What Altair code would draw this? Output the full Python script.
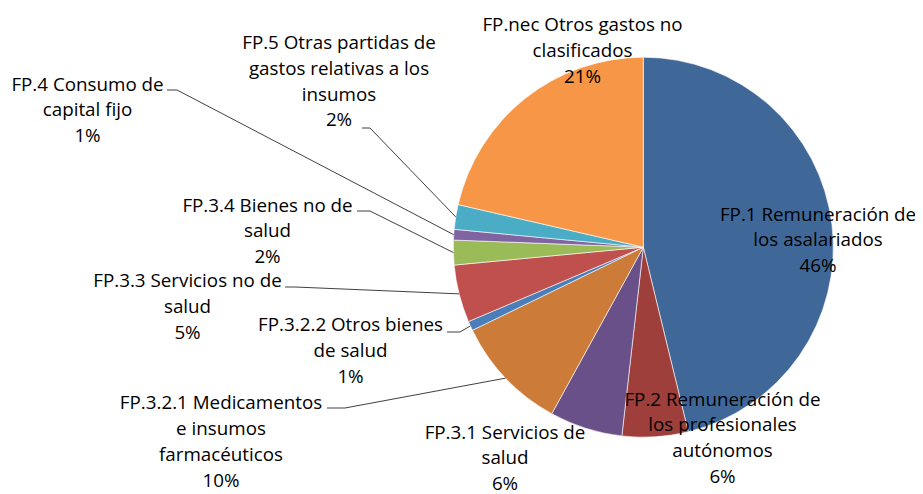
import altair as alt
import pandas as pd
import numpy as np

# ---------------- data ----------------
categories = [
    "FP.1", "FP.2", "FP.3.1", "FP.3.2.1", "FP.3.2.2",
    "FP.3.3", "FP.3.4", "FP.4", "FP.5", "FP.nec",
]
values = [46.2, 5.6, 6.2, 9.8, 0.8, 4.9, 2.1, 0.9, 2.1, 21.4]
label_lines = [
    ["FP.1 Remuneración de", "los asalariados"],
    ["FP.2 Remuneración de", "los profesionales", "autónomos"],
    ["FP.3.1 Servicios de", "salud"],
    ["FP.3.2.1 Medicamentos", "e insumos", "farmacéuticos"],
    ["FP.3.2.2 Otros bienes", "de salud"],
    ["FP.3.3 Servicios no de", "salud"],
    ["FP.3.4 Bienes no de", "salud"],
    ["FP.4 Consumo de", "capital fijo"],
    ["FP.5 Otras partidas de", "gastos relativas a los", "insumos"],
    ["FP.nec Otros gastos no", "clasificados"],
]
colors = [
    "#3F6899", "#9E3F3C", "#6A5088", "#CC7B38", "#4A7EBB",
    "#C0504D", "#9BBB59", "#8064A2", "#4BACC6", "#F79646",
]

# ---------------- layout (pixels in chart space) ----------------
W, H = 907, 486
CX, CY, R = 635.3, 239.2, 190
FONT = "Open Sans"
FS = 18.8
LH = 25.8
# label anchor: centre x, baseline of first line
label_pos = {
    "FP.1": (810, 212.7),
    "FP.2": (714.5, 397.7),
    "FP.3.1": (497, 430.5),
    "FP.3.2.1": (213, 401.3),
    "FP.3.2.2": (342.5, 323),
    "FP.3.3": (179.5, 279.3),
    "FP.3.4": (259.5, 203.7),
    "FP.4": (79.5, 82.7),
    "FP.5": (331, 41),
    "FP.nec": (574.5, 23),
}
# leader stubs: (x start, x end, y)
leader_stub = {
    "FP.3.2.1": (319, 337, 400),
    "FP.3.2.2": (439, 452, 324),
    "FP.3.3": (277, 287, 279),
    "FP.3.4": (349, 362, 203),
    "FP.4": (159, 169, 82),
    "FP.5": (354, 362, 120),
}

# ---------------- tables ----------------
df = pd.DataFrame({"cat": categories, "value": values, "idx": range(len(values))})

total = sum(values)
texts = []
for lines, v in zip(label_lines, values):
    texts.append("\n".join(lines + [f"{round(v / total * 100)}%"]))
lab_df = pd.DataFrame({
    "cat": categories,
    "txt": texts,
    "lx": [label_pos[c][0] for c in categories],
    "ly": [label_pos[c][1] for c in categories],
})

cum = np.cumsum([0] + values[:-1])
mid = {c: 2 * np.pi * (s + v / 2) / total for c, s, v in zip(categories, cum, values)}
rows = []
for c, (x0, x1, y) in leader_stub.items():
    a = mid[c]
    rows.append({"cat": c, "pt": 0, "px": x0, "py": y})
    rows.append({"cat": c, "pt": 1, "px": x1, "py": y})
    rows.append({"cat": c, "pt": 2, "px": CX + R * np.sin(a), "py": CY - R * np.cos(a)})
lead_df = pd.DataFrame(rows)

# ---------------- chart ----------------
pie = alt.Chart(df).mark_arc(outerRadius=R, stroke="white", strokeWidth=0.6).encode(
    theta=alt.Theta("value:Q", stack=True),
    color=alt.Color("cat:N", scale=alt.Scale(domain=categories, range=colors), legend=None),
    order=alt.Order("idx:Q", sort="ascending"),
    x=alt.value(CX),
    y=alt.value(CY),
)

leaders = alt.Chart(lead_df).mark_line(color="#404040", strokeWidth=1).encode(
    x=alt.X("px:Q", scale=None, axis=None),
    y=alt.Y("py:Q", scale=None, axis=None),
    detail="cat:N",
    order="pt:Q",
)

labels = alt.Chart(lab_df).mark_text(
    font=FONT, fontSize=FS, lineBreak="\n", lineHeight=LH,
    align="center", baseline="alphabetic", color="#000000",
).encode(
    x=alt.X("lx:Q", scale=None, axis=None),
    y=alt.Y("ly:Q", scale=None, axis=None),
    text="txt:N",
)

chart = alt.layer(pie, leaders, labels).properties(
    width=W, height=H, autosize="none", padding=0,
).configure_view(stroke=None)

chart.save("out.html", embed_options={"renderer": "svg", "actions": False})
